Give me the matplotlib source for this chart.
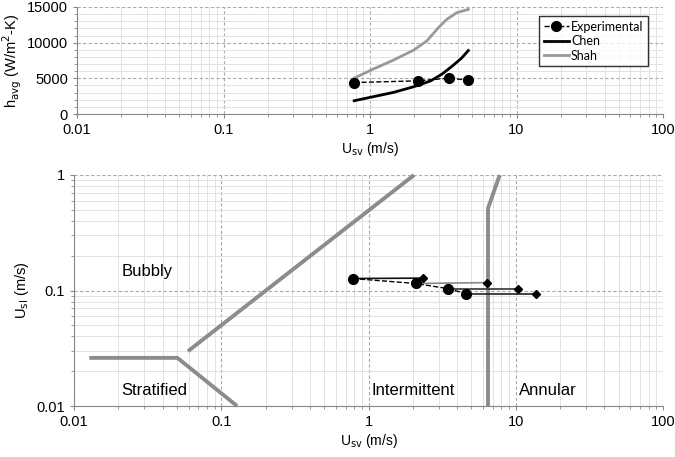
import numpy as np
import matplotlib.pyplot as plt
from matplotlib.ticker import FixedLocator, NullFormatter, LogLocator, FuncFormatter

plt.rcParams['font.family'] = ['Liberation Sans', 'DejaVu Sans']

# --- Top panel data ---
exp_x = [0.78, 2.12, 3.47, 4.63]
exp_h = [4410, 4650, 5030, 4750]
chen_x = [0.78, 1.05, 1.44, 1.98, 2.6, 3.1, 3.66, 4.2, 4.69]
chen_h = [1860, 2420, 3020, 3810, 4650, 5590, 6750, 7800, 8900]
shah_x = [0.78, 1.05, 1.44, 1.98, 2.44, 2.93, 3.34, 3.91, 4.69]
shah_h = [5030, 6290, 7540, 8940, 10240, 12100, 13270, 14200, 14670]

# --- Bottom panel data ---
circ_x = [0.78, 2.09, 3.44, 4.58]
circ_y = [0.127, 0.115, 0.104, 0.094]
diam_x = [2.35, 6.35, 10.35, 13.7]
diam_y = [0.128, 0.117, 0.104, 0.094]
link_colors = ['#111111', '#888888', '#333333', '#222222']

strat_x = [0.0127, 0.0504, 0.128]
strat_y = [0.0261, 0.0261, 0.01]
bub_x = [0.0594, 2.04]
bub_y = [0.0298, 1.0]
ann_x = [6.48, 6.48, 7.78]
ann_y = [0.01, 0.515, 1.0]

regime_labels = ['Bubbly', 'Stratified', 'Intermittent', 'Annular']
regime_x = [0.0211, 0.021, 1.04, 10.5]
regime_y = [0.125, 0.0118, 0.0118, 0.0118]

W, H = 675, 457
fig = plt.figure(figsize=(W / 100, H / 100), dpi=100)
ax1 = fig.add_axes([77 / W, 1 - 114 / H, (663 - 77) / W, (114 - 7) / H])
ax2 = fig.add_axes([74 / W, 1 - 406 / H, (663 - 74) / W, (406 - 175) / H])

boundary = '#8c8c8c'

def fmt(v, pos):
    return ('%g' % v)

for ax in (ax1, ax2):
    ax.set_xscale('log')
    ax.set_xlim(0.01, 100)
    ax.xaxis.set_major_locator(FixedLocator([0.01, 0.1, 1, 10, 100]))
    ax.xaxis.set_major_formatter(FuncFormatter(fmt))
    ax.xaxis.set_minor_locator(LogLocator(base=10, subs=np.arange(2, 10), numticks=20))
    ax.xaxis.set_minor_formatter(NullFormatter())
    ax.grid(True, which='major', color='#aaaaaa', linestyle=(0, (3, 2)), linewidth=0.8)
    ax.grid(True, which='minor', color='#e2e2e2', linestyle='-', linewidth=0.7)
    ax.set_axisbelow(True)
    for s in ('top', 'right'):
        ax.spines[s].set_visible(False)
    for s in ('left', 'bottom'):
        ax.spines[s].set_color('#888888')
    ax.tick_params(which='both', colors='#888888', labelcolor='black', labelsize=10.5, length=3)
    ax.tick_params(which='minor', length=2)
    ax.set_xlabel('U$_{\\mathrm{sv}}$ (m/s)', fontsize=10, labelpad=2)

# Top panel
ax1.set_ylim(0, 15000)
ax1.set_yticks([0, 5000, 10000, 15000])
ax1.yaxis.set_minor_locator(FixedLocator(np.arange(0, 15001, 1000)))
ax1.plot(exp_x, exp_h, color='black', linestyle='--', linewidth=1.0, marker='o', markersize=7, label='Experimental', zorder=4)
ax1.plot(chen_x, chen_h, color='black', linewidth=2.0, label='Chen', zorder=3)
ax1.plot(shah_x, shah_h, color='#999999', linewidth=2.0, label='Shah', zorder=3)
ax1.set_ylabel('h$_{\\mathrm{avg}}$ (W/m$^2$-K)', fontsize=10.5, labelpad=2)
leg = ax1.legend(loc='upper right', bbox_to_anchor=(0.985, 0.97), frameon=True, fancybox=False,
                 edgecolor='black', handlelength=2.0, handletextpad=0.2, borderpad=0.35, labelspacing=0.2,
                 prop={'family': 'Lato', 'size': 9})
leg.get_frame().set_linewidth(1.0)

# Bottom panel
ax2.set_yscale('log')
ax2.set_ylim(0.01, 1)
ax2.yaxis.set_major_locator(FixedLocator([0.01, 0.1, 1]))
ax2.yaxis.set_major_formatter(FuncFormatter(fmt))
ax2.yaxis.set_minor_locator(LogLocator(base=10, subs=np.arange(2, 10), numticks=20))
ax2.yaxis.set_minor_formatter(NullFormatter())
ax2.set_ylabel('U$_{\\mathrm{sl}}$ (m/s)', fontsize=10.5, labelpad=4)

for xs, ys in ((strat_x, strat_y), (bub_x, bub_y), (ann_x, ann_y)):
    ax2.plot(xs, ys, color=boundary, linewidth=2.8, solid_capstyle='butt', clip_on=False)

for i in range(len(circ_x)):
    ax2.plot([circ_x[i], diam_x[i]], [circ_y[i], diam_y[i]], color=link_colors[i], linewidth=1.2, zorder=3)
ax2.plot(diam_x, diam_y, linestyle='none', marker='D', markersize=4.5, color='black', zorder=4)
ax2.plot(circ_x, circ_y, color='black', linestyle='--', linewidth=1.0, marker='o', markersize=7, zorder=5)

for t, x, y in zip(regime_labels, regime_x, regime_y):
    ax2.text(x, y, t, fontsize=12, ha='left', va='bottom')

fig.savefig('out.png', dpi=100)
